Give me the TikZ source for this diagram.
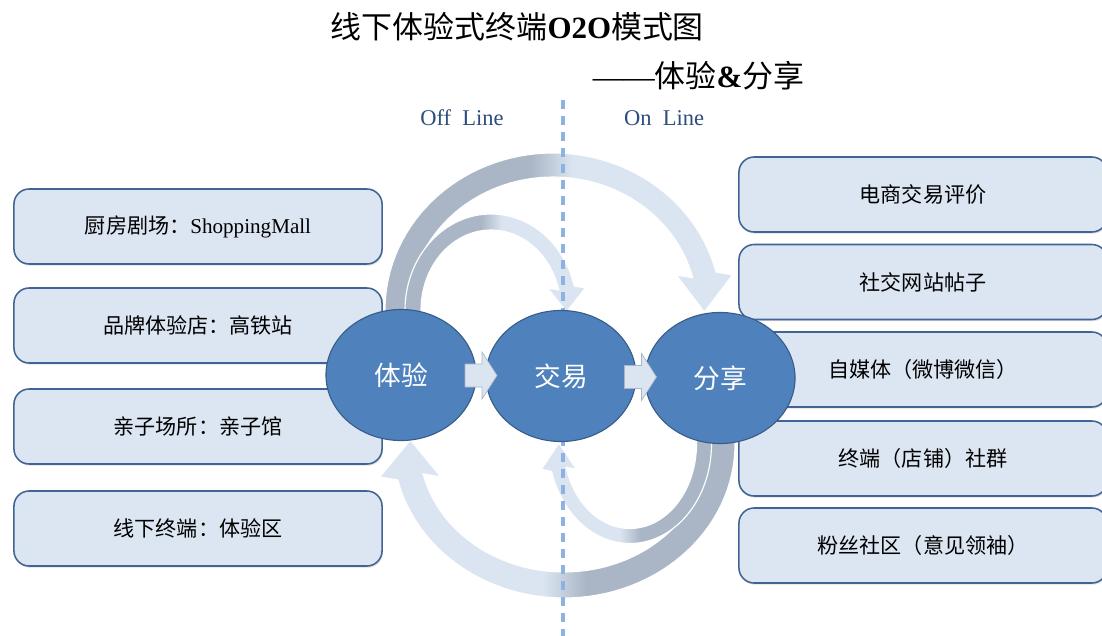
\documentclass[tikz,border=0pt]{standalone}
\usepackage{fontspec}
\setmainfont{Liberation Serif}
\newfontfamily\cjk{Noto Sans CJK SC}
\usetikzlibrary{shapes.geometric,shadows,calc}

\definecolor{ballblue}{RGB}{79,129,189}
\definecolor{balledge}{RGB}{56,93,138}
\definecolor{boxfill}{RGB}{220,230,242}
\definecolor{boxedge}{RGB}{65,100,148}
\definecolor{arcgray}{RGB}{170,182,198}
\definecolor{arclight}{RGB}{219,229,241}
\definecolor{dashblue}{RGB}{141,179,226}
\definecolor{labelblue}{RGB}{44,77,125}

\pgfdeclarehorizontalshading{grayleft}{100bp}{color(0bp)=(arcgray); color(46bp)=(arcgray); color(52bp)=(arclight); color(100bp)=(arclight)}
\pgfdeclarehorizontalshading{lightleft}{100bp}{color(0bp)=(arclight); color(48bp)=(arclight); color(54bp)=(arcgray); color(100bp)=(arcgray)}

% 弧形箭头: 阴影, cx, cy, rx, ry, 起角, 终角, 半宽, 箭尖y
\newcommand{\bandarrow}[9]{%
  \pgfmathsetmacro{\ex}{#2+#4*cos(#7)}%
  \pgfmathsetmacro{\ey}{#3-#5*sin(#7)}%
  \pgfmathsetmacro{\hw}{2.35*#8*sign(cos(#7))}%
  \draw[draw=white, line width=0.8pt, shading=#1]
    plot[domain=#6:#7, samples=60, variable=\t] ({#2+(#4+#8)*cos(\t)},{#3-(#5+#8)*sin(\t)})
    -- ({\ex+\hw},\ey) -- (\ex,#9) -- ({\ex-\hw},\ey)
    -- plot[domain=#7:#6, samples=60, variable=\t] ({#2+(#4-#8)*cos(\t)},{#3-(#5-#8)*sin(\t)})
    -- cycle;}

% 小箭头
\newcommand{\blockarrow}[1]{%
  \draw[smallarrow, shift={(#1)}] (-16,-11.5) -- (1,-11.5) -- (1,-23.5) -- (16,0)
    -- (1,23.5) -- (1,11.5) -- (-16,11.5) -- cycle;}

\tikzset{
  infobox/.style={draw=boxedge, fill=boxfill, line width=1.1pt, rounded corners=0.38cm,
    minimum width=9.2cm, minimum height=1.875cm, inner sep=0pt,
    drop shadow={opacity=0.25, shadow xshift=0.6pt, shadow yshift=-1.2pt},
    font=\fontsize{15pt}{18pt}\selectfont},
  ball/.style={ellipse, draw=balledge, fill=ballblue, line width=0.8pt,
    minimum width=3.75cm, minimum height=3.275cm, inner sep=0pt, text=white,
    font=\cjk\fontsize{19pt}{22pt}\selectfont},
  smallarrow/.style={fill=arclight, draw=arcgray, line width=0.5pt},
  sidelabel/.style={text=labelblue, font=\fontsize{16pt}{19pt}\selectfont}
}

\begin{document}
\begin{tikzpicture}[x=0.025cm,y=-0.025cm]
   \useasboundingbox (0,0) rectangle (1102,636);

   % 标题
   \node[anchor=west, font=\fontsize{22pt}{26pt}\selectfont] (title) at (326,27)
     {{\cjk 线下体验式终端}\textbf{O2O}{\cjk 模式图}};
   \node[anchor=west, font=\fontsize{22pt}{26pt}\selectfont] (subtitle) at (588,76)
     {——{\cjk 体验}\textbf{\&}{\cjk 分享}};
   \node[sidelabel] (offline) at (462,118) {Off\ \ Line};
   \node[sidelabel] (online) at (664,118) {On\ \ Line};

   % 左侧
   \node[infobox] (chufang) at (198,226.5) {{\cjk 厨房剧场：}ShoppingMall};
   \node[infobox] (pinpai) at (198,325.5) {\cjk 品牌体验店：高铁站};
   \node[infobox] (qinzi) at (198,426.5) {\cjk 亲子场所：亲子馆};
   \node[infobox] (xianxia) at (198,528.5) {\cjk 线下终端：体验区};

   % 右侧
   \node[infobox] (dianshang) at (923,194.5) {\cjk 电商交易评价};
   \node[infobox] (shejiao) at (923,282) {\cjk 社交网站帖子};
   \node[infobox] (zimeiti) at (923,369.5) {\cjk 自媒体（微博微信）};
   \node[infobox] (zhongduan) at (923,458.5) {\cjk 终端（店铺）社群};
   \node[infobox] (fensi) at (923,545.5) {\cjk 粉丝社区（意见领袖）};

   % 弧形箭头
   \bandarrow{grayleft}{553}{310}{156}{145}{186}{14}{12}{312}
   \bandarrow{grayleft}{491}{310}{78}{88}{185}{14.5}{8}{312}
   \bandarrow{lightleft}{564}{444}{158}{141}{6}{-166.5}{13}{440}
   \bandarrow{lightleft}{630}{444}{74}{92}{6}{-164}{7.5}{443}

   % 分界线
   \draw[dashblue, line width=2.2pt, dash pattern=on 6.4pt off 5pt] (563,100) -- (563,636);

   \node[ball] (tiyan) at (401,375) {体验};
   \node[ball] (jiaoyi) at (561,376) {交易};
   \node[ball] (fenxiang) at (720,378) {分享};

   \coordinate (m1) at ($(tiyan.east)!0.5!(jiaoyi.west)$);
   \coordinate (m2) at ($(jiaoyi.east)!0.5!(fenxiang.west)$);
   \blockarrow{m1}
   \blockarrow{m2}
\end{tikzpicture}
\end{document}
